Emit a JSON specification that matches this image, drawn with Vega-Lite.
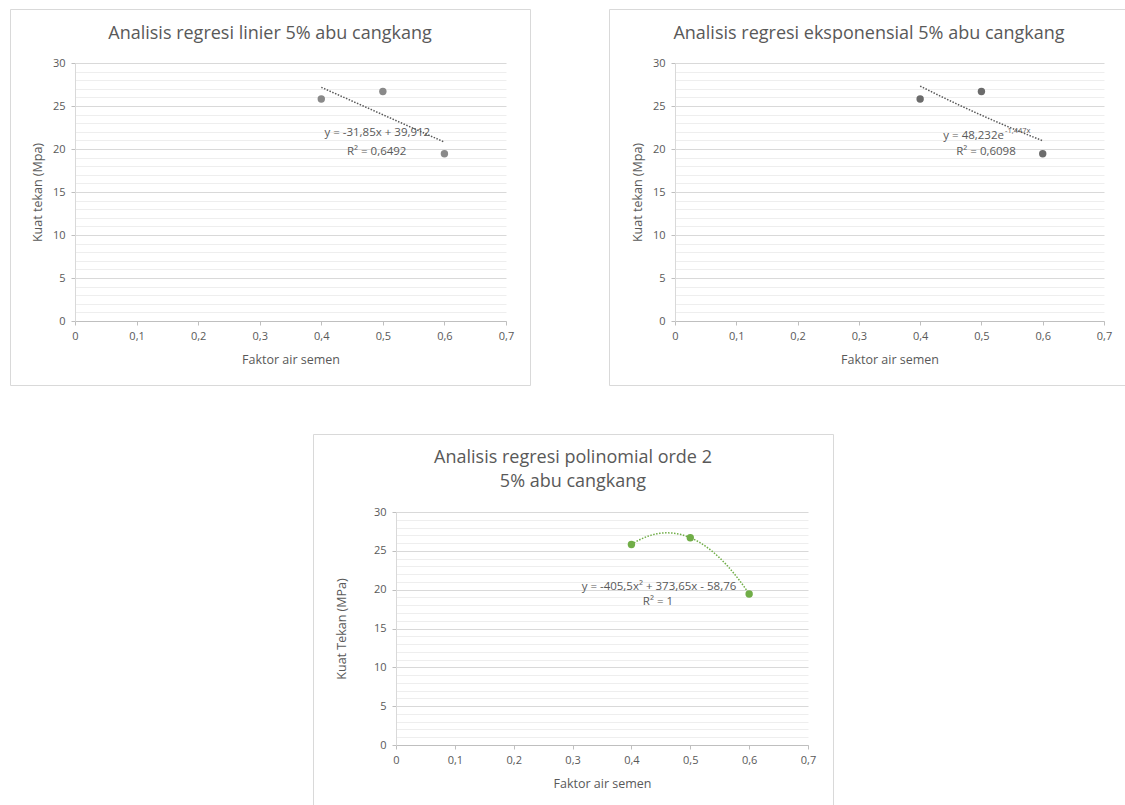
{
  "$schema": "https://vega.github.io/schema/vega-lite/v6.json",
  "padding": {"left": 9, "top": 8, "right": 0, "bottom": 0},
  "background": "white",
  "datasets": {
    "pts": [
      {"x": 0.4, "y": 25.82},
      {"x": 0.5, "y": 26.69},
      {"x": 0.6, "y": 19.45}
    ]
  },
  "config": {
    "font": "Open Sans",
    "axis": {
      "labelColor": "#595959", "titleColor": "#595959",
      "labelFont": "Open Sans", "titleFont": "Open Sans",
      "labelFontSize": 11, "titleFontSize": 12.5, "titleFontWeight": "normal",
      "domainColor": "#bfbfbf", "tickColor": "#bfbfbf"
    },
    "title": {"color": "#595959", "fontSize": 18, "fontWeight": "normal", "font": "Open Sans"}
  },
  "spacing": 47,
  "vconcat": [
    {
      "spacing": 77,
      "hconcat": [
        {
          "width": 520, "height": 376,
          "view": {"stroke": "#d9d9d9", "fill": "white"},
          "title": {"text": "Analisis regresi linier 5% abu cangkang", "anchor": "middle", "frame": "group", "offset": -43, "baseline": "middle"},
          "data": {"name": "pts"},
          "layer": [
            {
              "mark": {"type": "point", "filled": true, "size": 55, "color": "#898989", "opacity": 1},
              "encoding": {
                "x": {"field": "x", "type": "quantitative",
                  "scale": {"domain": [0, 0.7], "range": [65, 496], "nice": false, "zero": false},
                  "axis": {"values": [0, 0.1, 0.2, 0.3, 0.4, 0.5, 0.6, 0.7], "tickCount": 8, "offset": -64, "grid": false, "tickSize": 4, "labelPadding": 5,
                    "labelExpr": "replace(format(datum.value, '.1~f'), '.', ',')", "labelOverlap": false, "labelBound": false, "labelFlush": false,
                    "title": "Faktor air semen", "titleY": 38, "titleBaseline": "middle"}},
                "y": {"field": "y", "type": "quantitative",
                  "scale": {"domain": [0, 30], "range": [312, 54], "nice": false, "zero": false},
                  "axis": {"values": [0,1,2,3,4,5,6,7,8,9,10,11,12,13,14,15,16,17,18,19,20,21,22,23,24,25,26,27,28,29,30], "tickCount": 31,
                    "offset": -65, "grid": true,
                    "gridColor": {"condition": {"test": "datum.value % 5 === 0", "value": "#d9d9d9"}, "value": "#eeeeee"},
                    "tickOpacity": {"condition": {"test": "datum.value % 5 === 0", "value": 1}, "value": 0},
                    "labelExpr": "datum.value % 5 === 0 ? datum.label : ''", "labelOverlap": false, "labelBound": false, "labelFlush": false,
                    "tickSize": 4, "labelPadding": 6, "domainColor": "#d9d9d9",
                    "title": "Kuat tekan (Mpa)", "titleX": -38, "titleBaseline": "middle"}}
              }
            },
            {
              "transform": [{"regression": "y", "on": "x"}],
              "mark": {"type": "line", "strokeDash": [1.5, 1.5], "color": "#595959", "strokeWidth": 1.5},
              "encoding": {
                "x": {"field": "x", "type": "quantitative", "scale": {"domain": [0, 0.7], "range": [65, 496], "nice": false, "zero": false}},
                "y": {"field": "y", "type": "quantitative", "scale": {"domain": [0, 30], "range": [312, 54], "nice": false, "zero": false}}
              }
            },
            {
              "data": {"values": [{}]},
              "mark": {"type": "text", "fontSize": 11.5, "color": "#595959", "font": "Open Sans"},
              "encoding": {
                "x": {"datum": 0.491, "type": "quantitative", "scale": {"domain": [0, 0.7], "range": [65, 496], "nice": false, "zero": false}},
                "y": {"datum": 21.85, "type": "quantitative", "scale": {"domain": [0, 30], "range": [312, 54], "nice": false, "zero": false}},
                "text": {"value": "y = -31,85x + 39,912"}
              }
            },
            {
              "data": {"values": [{}]},
              "mark": {"type": "text", "fontSize": 11.5, "color": "#595959", "font": "Open Sans"},
              "encoding": {
                "x": {"datum": 0.49, "type": "quantitative", "scale": {"domain": [0, 0.7], "range": [65, 496], "nice": false, "zero": false}},
                "y": {"datum": 19.7, "type": "quantitative", "scale": {"domain": [0, 30], "range": [312, 54], "nice": false, "zero": false}},
                "text": {"value": "R² = 0,6492"}
              }
            }
          ]
        },
        {
          "width": 520, "height": 376,
          "view": {"stroke": "#d9d9d9", "fill": "white"},
          "title": {"text": "Analisis regresi eksponensial 5% abu cangkang", "anchor": "middle", "frame": "group", "offset": -43, "baseline": "middle"},
          "data": {"name": "pts"},
          "layer": [
            {
              "mark": {"type": "point", "filled": true, "size": 55, "color": "#6b6b6b", "opacity": 1},
              "encoding": {
                "x": {"field": "x", "type": "quantitative",
                  "scale": {"domain": [0, 0.7], "range": [66, 495], "nice": false, "zero": false},
                  "axis": {"values": [0, 0.1, 0.2, 0.3, 0.4, 0.5, 0.6, 0.7], "tickCount": 8, "offset": -64, "grid": false, "tickSize": 4, "labelPadding": 5,
                    "labelExpr": "replace(format(datum.value, '.1~f'), '.', ',')", "labelOverlap": false, "labelBound": false, "labelFlush": false,
                    "title": "Faktor air semen", "titleY": 38, "titleBaseline": "middle"}},
                "y": {"field": "y", "type": "quantitative",
                  "scale": {"domain": [0, 30], "range": [312, 54], "nice": false, "zero": false},
                  "axis": {"values": [0,1,2,3,4,5,6,7,8,9,10,11,12,13,14,15,16,17,18,19,20,21,22,23,24,25,26,27,28,29,30], "tickCount": 31,
                    "offset": -66, "grid": true,
                    "gridColor": {"condition": {"test": "datum.value % 5 === 0", "value": "#d9d9d9"}, "value": "#eeeeee"},
                    "tickOpacity": {"condition": {"test": "datum.value % 5 === 0", "value": 1}, "value": 0},
                    "labelExpr": "datum.value % 5 === 0 ? datum.label : ''", "labelOverlap": false, "labelBound": false, "labelFlush": false,
                    "tickSize": 4, "labelPadding": 6, "domainColor": "#d9d9d9",
                    "title": "Kuat tekan (Mpa)", "titleX": -38, "titleBaseline": "middle"}}
              }
            },
            {
              "transform": [{"regression": "y", "on": "x", "method": "exp"}],
              "mark": {"type": "line", "strokeDash": [1.5, 1.5], "color": "#595959", "strokeWidth": 1.5},
              "encoding": {
                "x": {"field": "x", "type": "quantitative", "scale": {"domain": [0, 0.7], "range": [66, 495], "nice": false, "zero": false}},
                "y": {"field": "y", "type": "quantitative", "scale": {"domain": [0, 30], "range": [312, 54], "nice": false, "zero": false}}
              }
            },
            {
              "data": {"values": [{}]},
              "mark": {"type": "text", "fontSize": 11.5, "color": "#595959", "font": "Open Sans", "align": "right"},
              "encoding": {
                "x": {"datum": 0.5368, "type": "quantitative", "scale": {"domain": [0, 0.7], "range": [66, 495], "nice": false, "zero": false}},
                "y": {"datum": 21.55, "type": "quantitative", "scale": {"domain": [0, 30], "range": [312, 54], "nice": false, "zero": false}},
                "text": {"value": "y = 48,232e"}
              }
            },
            {
              "data": {"values": [{}]},
              "mark": {"type": "text", "fontSize": 7.5, "color": "#595959", "font": "Open Sans", "align": "left"},
              "encoding": {
                "x": {"datum": 0.5385, "type": "quantitative", "scale": {"domain": [0, 0.7], "range": [66, 495], "nice": false, "zero": false}},
                "y": {"datum": 22.15, "type": "quantitative", "scale": {"domain": [0, 30], "range": [312, 54], "nice": false, "zero": false}},
                "text": {"value": "-1,447x"}
              }
            },
            {
              "data": {"values": [{}]},
              "mark": {"type": "text", "fontSize": 11.5, "color": "#595959", "font": "Open Sans"},
              "encoding": {
                "x": {"datum": 0.5075, "type": "quantitative", "scale": {"domain": [0, 0.7], "range": [66, 495], "nice": false, "zero": false}},
                "y": {"datum": 19.6, "type": "quantitative", "scale": {"domain": [0, 30], "range": [312, 54], "nice": false, "zero": false}},
                "text": {"value": "R² = 0,6098"}
              }
            }
          ]
        }
      ]
    },
    {
      "spacing": 0,
      "hconcat": [
        {
          "width": 302, "height": 10,
          "view": {"stroke": null, "fill": "white"},
          "data": {"values": []},
          "mark": "point"
        },
        {
          "width": 520, "height": 376,
          "view": {"stroke": "#d9d9d9", "fill": "white"},
          "title": {"text": ["Analisis regresi polinomial orde 2", "5% abu cangkang"], "anchor": "middle", "frame": "group", "offset": -66, "baseline": "middle", "lineHeight": 24},
          "data": {"name": "pts"},
          "layer": [
            {
              "transform": [{"regression": "y", "on": "x", "method": "poly", "order": 2}],
              "mark": {"type": "line", "strokeDash": [1.5, 1.5], "color": "#70ad47", "strokeWidth": 1.5},
              "encoding": {
                "x": {"field": "x", "type": "quantitative", "scale": {"domain": [0, 0.7], "range": [83, 495], "nice": false, "zero": false}},
                "y": {"field": "y", "type": "quantitative", "scale": {"domain": [0, 30], "range": [311, 78], "nice": false, "zero": false}}
              }
            },
            {
              "mark": {"type": "point", "filled": true, "size": 55, "color": "#70ad47", "opacity": 1},
              "encoding": {
                "x": {"field": "x", "type": "quantitative",
                  "scale": {"domain": [0, 0.7], "range": [83, 495], "nice": false, "zero": false},
                  "axis": {"values": [0, 0.1, 0.2, 0.3, 0.4, 0.5, 0.6, 0.7], "tickCount": 8, "offset": -65, "grid": false, "tickSize": 4, "labelPadding": 5,
                    "labelExpr": "replace(format(datum.value, '.1~f'), '.', ',')", "labelOverlap": false, "labelBound": false, "labelFlush": false,
                    "title": "Faktor air semen", "titleY": 38, "titleBaseline": "middle"}},
                "y": {"field": "y", "type": "quantitative",
                  "scale": {"domain": [0, 30], "range": [311, 78], "nice": false, "zero": false},
                  "axis": {"values": [0,1,2,3,4,5,6,7,8,9,10,11,12,13,14,15,16,17,18,19,20,21,22,23,24,25,26,27,28,29,30], "tickCount": 31,
                    "offset": -83, "grid": true,
                    "gridColor": {"condition": {"test": "datum.value % 5 === 0", "value": "#d9d9d9"}, "value": "#eeeeee"},
                    "tickOpacity": {"condition": {"test": "datum.value % 5 === 0", "value": 1}, "value": 0},
                    "labelExpr": "datum.value % 5 === 0 ? datum.label : ''", "labelOverlap": false, "labelBound": false, "labelFlush": false,
                    "tickSize": 4, "labelPadding": 6, "domainColor": "#d9d9d9",
                    "title": "Kuat Tekan (MPa)", "titleX": -55, "titleBaseline": "middle"}}
              }
            },
            {
              "data": {"values": [{}]},
              "mark": {"type": "text", "fontSize": 11.5, "color": "#595959", "font": "Open Sans"},
              "encoding": {
                "x": {"datum": 0.4468, "type": "quantitative", "scale": {"domain": [0, 0.7], "range": [83, 495], "nice": false, "zero": false}},
                "y": {"datum": 20.35, "type": "quantitative", "scale": {"domain": [0, 30], "range": [311, 78], "nice": false, "zero": false}},
                "text": {"value": "y = -405,5x² + 373,65x - 58,76"}
              }
            },
            {
              "data": {"values": [{}]},
              "mark": {"type": "text", "fontSize": 11.5, "color": "#595959", "font": "Open Sans"},
              "encoding": {
                "x": {"datum": 0.4451, "type": "quantitative", "scale": {"domain": [0, 0.7], "range": [83, 495], "nice": false, "zero": false}},
                "y": {"datum": 18.35, "type": "quantitative", "scale": {"domain": [0, 30], "range": [311, 78], "nice": false, "zero": false}},
                "text": {"value": "R² = 1"}
              }
            }
          ]
        }
      ]
    }
  ]
}
